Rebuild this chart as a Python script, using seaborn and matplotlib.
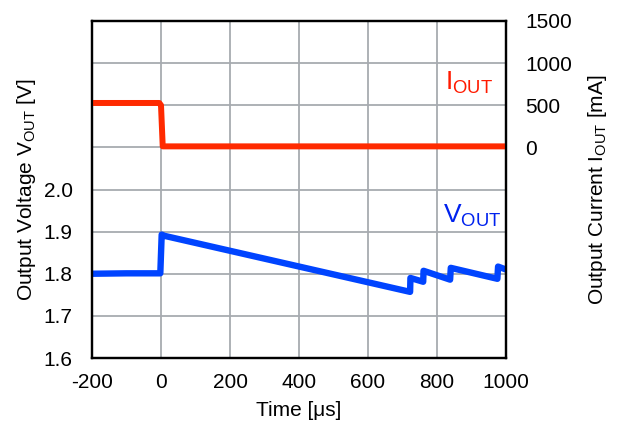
import matplotlib
matplotlib.use("Agg")
import matplotlib.pyplot as plt
import seaborn as sns
import pandas as pd
import numpy as np

# ---- data ----
v_time = [-200, -100, -2, 2, 10, 722, 723, 760, 761, 838, 840, 975, 977, 1000]
v_out = [1.800, 1.801, 1.801, 1.893, 1.890, 1.757, 1.790, 1.781, 1.807, 1.786, 1.814, 1.788, 1.817, 1.810]

i_time = [-200, -5, 0, 5, 1000]
i_out = [527, 527, 500, 12, 12]

x_ticks = [-200, 0, 200, 400, 600, 800, 1000]
v_ticks = [1.6, 1.7, 1.8, 1.9, 2.0]
i_ticks = [0, 500, 1000, 1500]

sns.set_style("white")
plt.rcParams['font.family'] = ['Liberation Sans', 'DejaVu Sans']
plt.rcParams['mathtext.fontset'] = 'custom'
plt.rcParams['mathtext.rm'] = 'Liberation Sans'
plt.rcParams['mathtext.it'] = 'Liberation Sans'
plt.rcParams['text.color'] = 'black'
plt.rcParams['axes.labelcolor'] = 'black'

fig = plt.figure(figsize=(6.17, 4.30), dpi=100)
ax = fig.add_axes([92/617, 1 - 358/430, (506 - 92)/617, (358 - 21)/430])
ax2 = ax.twinx()

vdf = pd.DataFrame({"t": v_time, "v": v_out})
idf = pd.DataFrame({"t": i_time, "i": i_out})

sns.lineplot(data=vdf, x="t", y="v", ax=ax, color="#0044FF", lw=4.6, sort=False,
             solid_joinstyle="round", solid_capstyle="butt")
sns.lineplot(data=idf, x="t", y="i", ax=ax2, color="#FF2A00", lw=4.3, sort=False,
             solid_joinstyle="round", solid_capstyle="butt")

ax.set_xlim(-200, 1000)
ax.set_ylim(1.6, 2.4)
ax2.set_ylim(-2500, 1500)

grid_y = [1.6 + 0.1 * k for k in range(9)]
ax.set_yticks(grid_y)
ax.set_yticklabels([f"{v:.1f}" if v < 2.05 else "" for v in grid_y])
ax.set_xticks(x_ticks)
ax.set_xticklabels([str(t) for t in x_ticks])
ax2.set_yticks(i_ticks)
ax2.set_yticklabels([str(t) for t in i_ticks])

ax.grid(True, color="#A7ABB0", lw=1.3)
ax.set_axisbelow(True)
ax2.grid(False)

ax.tick_params(axis="both", length=0, labelsize=15, colors="black")
ax.tick_params(axis="y", pad=14)
ax.tick_params(axis="x", pad=11)
ax2.tick_params(axis="y", length=0, labelsize=15, pad=14, colors="black")

for a in (ax, ax2):
    for s in a.spines.values():
        s.set_color("black")
        s.set_linewidth(1.6)

ax.set_xlabel("Time [μs]", fontsize=15, labelpad=6)
ax.set_ylabel(r"Output Voltage V$_{\mathrm{OUT}}$ [V]", fontsize=15, labelpad=4)
ax2.set_ylabel(r"Output Current I$_{\mathrm{OUT}}$ [mA]", fontsize=15, labelpad=10)

ax.text(986, 1.921, r"V$_{\mathrm{OUT}}$", color="#0022EE", fontsize=19,
        ha="right", va="baseline")
ax2.text(962, 679, r"I$_{\mathrm{OUT}}$", color="#FF1A00", fontsize=19,
         ha="right", va="baseline")

fig.savefig("out.png", dpi=100)
